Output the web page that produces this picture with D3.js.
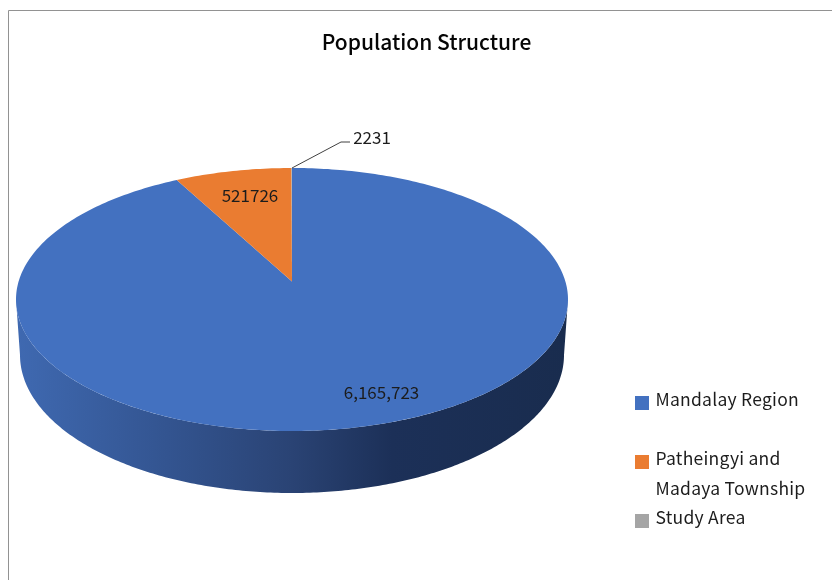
<!DOCTYPE html>
<html><head><meta charset="utf-8">
<script src="https://cdn.jsdelivr.net/npm/d3@7"></script>
<style>html,body{margin:0;background:#fff}svg{display:block;filter:blur(0.35px)}text{font-family:"Noto Sans CJK KR","Noto Sans",sans-serif;fill:#1c1c1c}</style>
</head><body><svg id="c" width="832" height="580"></svg>
<script>
const categories = ["Mandalay Region", "Patheingyi and Madaya Township", "Study Area"];
const values = [6165723, 521726, 2231];
const valueLabels = ["6,165,723", "521726", "2231"];
const colors = ["#4371c0", "#ea7c31", "#a5a5a5"];
const legendLines = [["Mandalay Region"], ["Patheingyi and", "Madaya Township"], ["Study Area"]];
const chartTitle = "Population Structure";

const svg = d3.select("#c");
// frame
svg.append("path").attr("d", "M8.5,580V10.5H832").attr("fill", "none").attr("stroke", "#929292").attr("stroke-width", 1);

// tilted pie geometry
const cx = 292, cy = 299.5, rx = 276, ry = 131.5, persp = 0.137;
const xS = d3.scaleLinear().domain([-1, 1]).range([cx - rx, cx + rx]);
const yS = d3.scaleLinear().domain([-1, 1]).range([cy + ry, cy - ry]);
const proj = (r, a) => {
  const u = r * Math.sin(a), v = r * Math.cos(a), d = 1 + persp * v;
  return [xS(u * Math.sqrt(1 - persp * persp) / d), yS((v + persp) / d)];
};
const line = d3.line();
const arcs = d3.pie().sort(null).value(d => d)(values);

// side wall
const baseRx = 272, baseRy = 138, baseCy = 355;
const defs = svg.append("defs");
const grad = defs.append("linearGradient").attr("id", "side").attr("gradientUnits", "userSpaceOnUse")
  .attr("x1", cx - rx).attr("x2", cx + rx).attr("y1", 0).attr("y2", 0);
[[0, "#3f69b1"], [0.25, "#345693"], [0.5, "#2a4374"], [0.68, "#1c3058"], [1, "#192c4e"]]
  .forEach(([o, c]) => grad.append("stop").attr("offset", o).attr("stop-color", c));
const n = 240;
const front = d3.range(n + 1).map(i => Math.PI * i / n);
const bottomEdge = front.map(t => [cx + baseRx * Math.cos(t), baseCy + baseRy * Math.sin(t)]);
const topEdge = front.map(t => [cx + rx * Math.cos(t), cy + ry * Math.sin(t)]).reverse();
svg.append("path").attr("d", line(bottomEdge.concat(topEdge)) + "Z").attr("fill", "url(#side)");

// top face
svg.selectAll("path.slice").data(arcs).join("path").attr("class", "slice")
  .attr("fill", (d, i) => colors[i])
  .attr("d", d => {
    const k = Math.max(2, Math.ceil((d.endAngle - d.startAngle) * 60));
    const pts = d3.range(k + 1).map(i => proj(1, d.startAngle + (d.endAngle - d.startAngle) * i / k));
    return line([proj(0, 0), ...pts]) + "Z";
  });

// leader line for smallest slice
svg.append("path").attr("d", "M292,168L341,142H350").attr("fill", "none").attr("stroke", "#404040").attr("stroke-width", 1);

// data labels
const labelPos = [[381.5, 399], [250, 202], [372, 144]];
svg.selectAll("text.val").data(valueLabels).join("text").attr("class", "val")
  .attr("x", (d, i) => labelPos[i][0]).attr("y", (d, i) => labelPos[i][1])
  .attr("text-anchor", "middle").attr("font-size", 17).text(d => d);

// title
svg.append("text").attr("x", 426.5).attr("y", 50).attr("text-anchor", "middle")
  .attr("font-size", 21).attr("font-weight", 500).style("fill", "#050505").text(chartTitle);

// legend
const swatchY = [396, 455, 514], lineY = [[405.5], [465, 495], [524]];
categories.forEach((c, i) => {
  svg.append("rect").attr("x", 635).attr("y", swatchY[i]).attr("width", 14).attr("height", 14).attr("fill", colors[i]);
  legendLines[i].forEach((t, j) => {
    svg.append("text").attr("x", 655.5).attr("y", lineY[i][j]).attr("font-size", 17.5).style("letter-spacing", "0.25px").text(t);
  });
});
</script></body></html>
